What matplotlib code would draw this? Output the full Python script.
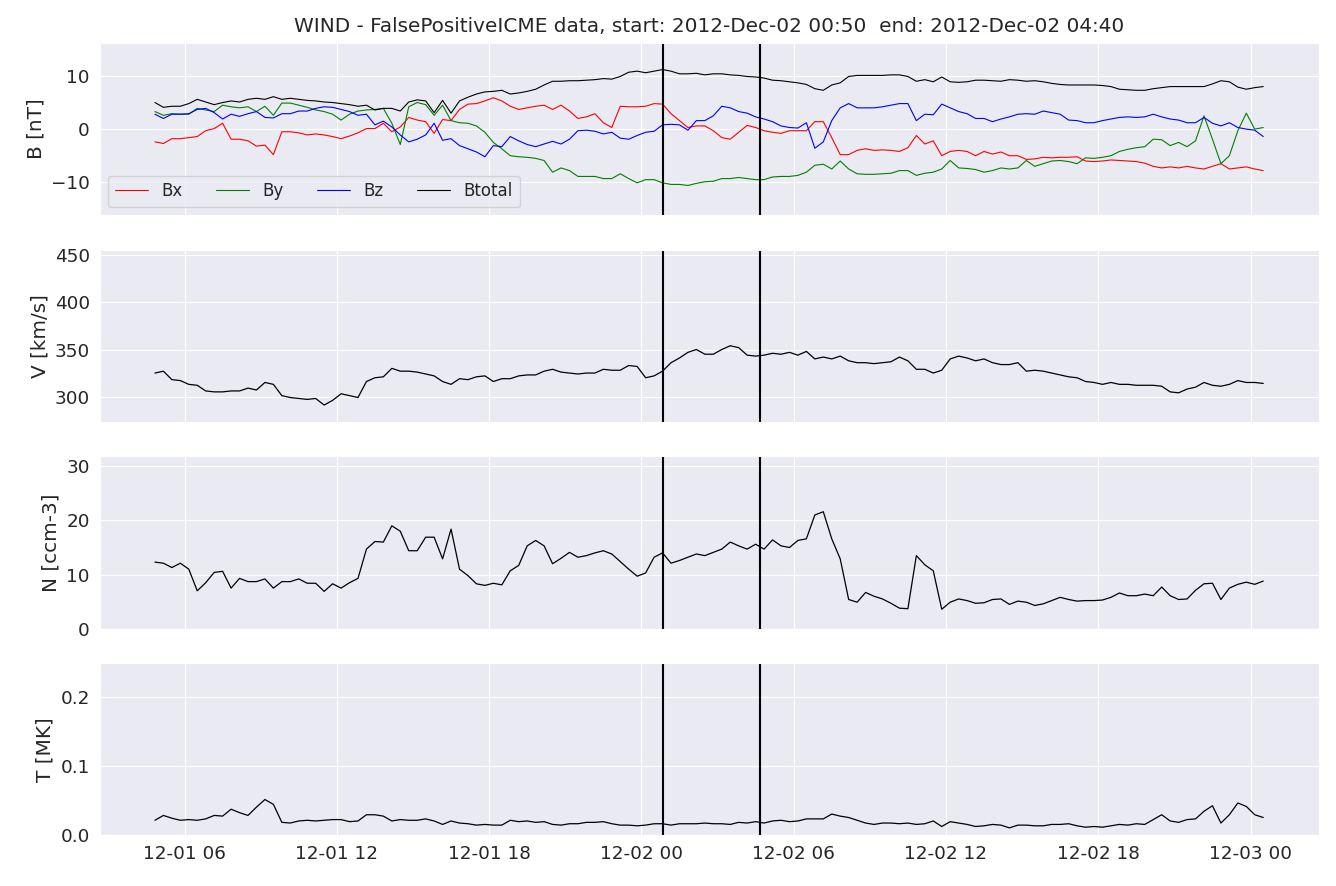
import matplotlib
matplotlib.use("Agg")
import matplotlib.pyplot as plt
import matplotlib.dates as mdates
import pandas as pd
import seaborn as sns

sns.set_style("darkgrid")
plt.rcParams["font.family"] = ["DejaVu Sans"]

# WIND in-situ data, 20 min cadence, starting 2012-12-01 04:50
start_time = "2012-12-01 04:50"
event_start = "2012-12-02 00:50"
event_end = "2012-12-02 04:40"

bx = [-2.4, -2.7, -1.8, -1.8, -1.6, -1.4, -0.3, 0.1, 1.1, -1.9,
      -1.9, -2.2, -3.2, -3.0, -4.8, -0.5, -0.5, -0.7, -1.1, -0.9,
      -1.1, -1.4, -1.8, -1.3, -0.7, 0.1, 0.1, 1.1, -0.5, 0.4,
      2.2, 1.7, 1.4, -0.8, 1.8, 1.6, 3.7, 4.7, 4.8, 5.3,
      5.9, 5.3, 4.3, 3.7, 4.0, 4.3, 4.5, 3.7, 4.5, 3.4,
      2.0, 2.3, 2.9, 1.2, 0.3, 4.3, 4.2, 4.2, 4.3, 4.8,
      4.7, 2.9, 1.6, 0.3, 0.6, 0.6, -0.3, -1.6, -1.9, -0.6,
      0.7, 0.3, -0.3, -0.6, -0.8, -0.3, -0.3, -0.3, 1.4, 1.4,
      -1.6, -4.8, -4.8, -4.0, -3.7, -4.0, -3.9, -4.0, -4.2, -3.5,
      -1.2, -2.8, -2.2, -5.0, -4.2, -4.0, -4.2, -5.0, -4.2, -4.7,
      -4.3, -5.0, -5.0, -5.7, -5.6, -5.3, -5.4, -5.3, -5.3, -5.2,
      -6.0, -6.1, -6.0, -5.8, -5.9, -6.0, -6.1, -6.4, -7.0, -7.3,
      -7.1, -7.3, -7.0, -7.3, -7.5, -7.0, -6.5, -7.5, -7.3, -7.1,
      -7.5, -7.8]

by = [3.3, 2.6, 2.9, 2.8, 2.8, 3.9, 3.6, 3.3, 4.5, 4.2,
      4.0, 4.2, 3.3, 4.3, 2.6, 4.9, 4.9, 4.5, 4.1, 3.6,
      3.3, 2.8, 1.7, 2.8, 3.4, 3.6, 3.7, 3.9, 1.1, -2.9,
      4.2, 5.0, 4.6, 2.6, 4.5, 1.6, 1.2, 1.1, 0.6, -0.6,
      -2.5, -3.7, -5.0, -5.2, -5.3, -5.5, -5.9, -8.1, -7.3, -7.8,
      -8.9, -8.9, -8.9, -9.3, -9.3, -8.4, -9.3, -10.1, -9.5, -9.5,
      -10.1, -10.4, -10.4, -10.6, -10.2, -9.9, -9.8, -9.3, -9.3, -9.1,
      -9.3, -9.5, -9.5, -9.0, -8.9, -8.9, -8.7, -8.1, -6.8, -6.6,
      -7.5, -6.0, -7.5, -8.4, -8.5, -8.5, -8.4, -8.3, -7.8, -7.8,
      -8.7, -8.3, -8.1, -7.5, -5.9, -7.3, -7.4, -7.6, -8.1, -7.8,
      -7.3, -7.5, -7.3, -5.9, -7.0, -6.5, -6.0, -5.9, -6.1, -6.5,
      -5.4, -5.5, -5.3, -5.0, -4.2, -3.8, -3.5, -3.3, -1.9, -2.0,
      -3.1, -2.5, -3.3, -2.2, 2.5, -1.9, -6.5, -5.0, -0.3, 3.0,
      0.0, 0.3]

bz = [2.8, 2.0, 2.8, 2.8, 2.9, 3.7, 3.9, 3.1, 1.9, 2.8,
      2.4, 2.9, 3.3, 2.2, 2.1, 2.9, 2.9, 3.4, 3.4, 3.9,
      4.2, 4.1, 3.7, 3.3, 2.6, 2.8, 0.8, 1.5, 0.4, -1.1,
      -2.4, -1.9, -1.1, 1.1, -2.1, -1.8, -3.1, -3.7, -4.3, -5.2,
      -3.1, -3.3, -1.4, -2.2, -2.9, -3.3, -2.8, -2.3, -2.8, -1.9,
      -0.3, -0.2, -0.4, -0.9, -0.6, -1.7, -1.9, -1.2, -0.6, -0.4,
      0.8, 0.9, 0.8, -0.2, 1.6, 1.6, 2.5, 4.3, 4.0, 3.3,
      3.0, 2.3, 1.9, 1.4, 0.6, 0.3, 0.2, 1.2, -3.6, -2.4,
      1.6, 4.0, 4.8, 4.0, 4.0, 4.0, 4.2, 4.5, 4.8, 4.8,
      1.6, 2.8, 2.7, 4.7, 4.0, 3.3, 2.9, 2.0, 2.0, 1.4,
      1.9, 2.3, 2.8, 2.9, 2.8, 3.4, 3.1, 2.8, 1.7, 1.6,
      1.2, 1.2, 1.6, 1.9, 2.2, 2.3, 2.2, 2.3, 2.8, 2.3,
      1.9, 1.7, 1.2, 1.2, 2.2, 1.1, 0.6, 1.2, 0.3, 0.0,
      -0.2, -1.4]

btot = [5.0, 4.1, 4.3, 4.3, 4.8, 5.6, 5.1, 4.6, 5.0, 5.3,
        5.1, 5.6, 5.8, 5.6, 6.1, 5.6, 5.8, 5.6, 5.4, 5.3,
        5.1, 5.0, 4.8, 4.6, 4.3, 4.5, 3.6, 3.9, 3.9, 3.4,
        5.1, 5.5, 5.3, 3.1, 5.4, 3.0, 5.3, 6.0, 6.6, 7.0,
        7.1, 7.3, 6.6, 6.8, 7.1, 7.5, 8.3, 9.0, 9.0, 9.1,
        9.1, 9.2, 9.3, 9.5, 9.4, 9.9, 10.7, 10.9, 10.6, 10.9,
        11.2, 10.9, 10.4, 10.4, 10.5, 10.2, 10.4, 10.4, 10.2, 10.1,
        9.9, 9.8, 9.6, 9.2, 9.1, 8.9, 8.7, 8.4, 7.6, 7.3,
        8.3, 8.7, 9.9, 10.1, 10.1, 10.1, 10.1, 10.2, 10.2, 9.9,
        9.0, 9.3, 8.9, 9.8, 8.9, 8.8, 8.9, 9.2, 9.2, 9.1,
        9.0, 9.3, 9.2, 9.0, 9.1, 8.9, 8.6, 8.4, 8.3, 8.3,
        8.3, 8.3, 8.2, 8.0, 7.5, 7.4, 7.3, 7.3, 7.6, 7.8,
        8.0, 8.0, 8.0, 8.0, 8.0, 8.5, 9.1, 8.9, 7.9, 7.5,
        7.8, 8.0]

vel = [325, 327, 318, 317, 313, 312, 306, 305, 305, 306,
       306, 309, 307, 315, 313, 301, 299, 298, 297, 298,
       291, 296, 303, 301, 299, 316, 320, 321, 330, 327,
       327, 326, 324, 322, 316, 313, 319, 318, 321, 322,
       316, 319, 319, 322, 323, 323, 327, 329, 326, 325,
       324, 325, 325, 329, 328, 328, 333, 332, 320, 322,
       327, 336, 341, 347, 350, 345, 345, 350, 354, 352,
       344, 343, 344, 346, 345, 347, 344, 348, 340, 342,
       340, 343, 338, 336, 336, 335, 336, 337, 342, 338,
       329, 329, 325, 328, 340, 343, 341, 338, 340, 336,
       334, 334, 336, 327, 328, 327, 325, 323, 321, 320,
       316, 315, 313, 315, 313, 313, 312, 312, 312, 311,
       305, 304, 308, 310, 315, 312, 311, 313, 317, 315,
       315, 314]

dens = [12.3, 12.1, 11.3, 12.1, 11.0, 7.0, 8.5, 10.4, 10.6, 7.5,
        9.3, 8.7, 8.7, 9.2, 7.5, 8.7, 8.7, 9.2, 8.4, 8.4,
        6.9, 8.3, 7.5, 8.5, 9.3, 14.7, 16.1, 16.0, 19.0, 18.0,
        14.4, 14.4, 16.9, 16.9, 12.9, 18.4, 11.0, 9.8, 8.3, 8.0,
        8.4, 8.1, 10.7, 11.7, 15.3, 16.3, 15.3, 12.0, 13.0, 14.1,
        13.2, 13.5, 14.0, 14.4, 13.8, 12.4, 11.0, 9.7, 10.3, 13.2,
        14.0, 12.1, 12.6, 13.2, 13.8, 13.5, 14.1, 14.7, 16.0, 15.3,
        14.7, 15.6, 14.7, 16.4, 15.3, 15.0, 16.3, 16.6, 21.0, 21.6,
        16.6, 12.9, 5.4, 4.9, 6.7, 6.0, 5.5, 4.7, 3.8, 3.7,
        13.5, 11.8, 10.7, 3.6, 4.9, 5.5, 5.2, 4.7, 4.8, 5.4,
        5.5, 4.5, 5.1, 4.9, 4.3, 4.6, 5.2, 5.8, 5.4, 5.1,
        5.2, 5.2, 5.3, 5.8, 6.6, 6.1, 6.1, 6.4, 6.1, 7.7,
        6.1, 5.4, 5.5, 7.1, 8.3, 8.4, 5.4, 7.5, 8.2, 8.6,
        8.2, 8.8]

temp = [0.022, 0.029, 0.025, 0.022, 0.023, 0.022, 0.024, 0.029, 0.028, 0.038,
        0.033, 0.029, 0.041, 0.052, 0.045, 0.019, 0.018, 0.021, 0.022, 0.021,
        0.022, 0.023, 0.023, 0.020, 0.021, 0.030, 0.030, 0.028, 0.021, 0.023,
        0.022, 0.022, 0.024, 0.021, 0.016, 0.021, 0.018, 0.017, 0.015, 0.016,
        0.015, 0.015, 0.022, 0.020, 0.021, 0.019, 0.020, 0.016, 0.015, 0.017,
        0.017, 0.019, 0.019, 0.020, 0.017, 0.015, 0.015, 0.014, 0.015, 0.017,
        0.017, 0.015, 0.017, 0.017, 0.017, 0.018, 0.017, 0.017, 0.016, 0.019,
        0.018, 0.020, 0.018, 0.021, 0.022, 0.020, 0.021, 0.024, 0.024, 0.024,
        0.031, 0.028, 0.026, 0.022, 0.018, 0.016, 0.018, 0.018, 0.017, 0.018,
        0.016, 0.017, 0.021, 0.013, 0.020, 0.018, 0.016, 0.013, 0.014, 0.016,
        0.015, 0.011, 0.015, 0.015, 0.014, 0.014, 0.016, 0.016, 0.017, 0.014,
        0.012, 0.013, 0.012, 0.014, 0.016, 0.015, 0.017, 0.016, 0.023, 0.030,
        0.021, 0.019, 0.023, 0.024, 0.035, 0.043, 0.018, 0.030, 0.047, 0.042,
        0.030, 0.026]

times = pd.date_range(start_time, periods=len(bx), freq="20min")
t_start = pd.Timestamp(event_start)
t_end = pd.Timestamp(event_end)

fig, axes = plt.subplots(4, 1, sharex=True, figsize=(13.36, 8.86), dpi=100)
fig.subplots_adjust(left=0.0745, right=0.987, top=0.9515, bottom=0.057, hspace=0.2)

ax1, ax2, ax3, ax4 = axes

ax1.plot(times, bx, color="red", lw=0.8, label="Bx")
ax1.plot(times, by, color="green", lw=0.8, label="By")
ax1.plot(times, bz, color="blue", lw=0.8, label="Bz")
ax1.plot(times, btot, color="black", lw=0.8, label="Btotal")
ax1.set_ylim(-16.2, 16.2)
ax1.set_yticks([-10, 0, 10])
ax1.set_ylabel("B [nT]", fontsize=14.4)
ax1.legend(loc="lower left", ncol=4, fontsize=12)
ax1.set_title("WIND - FalsePositiveICME data, start: 2012-Dec-02 00:50  end: 2012-Dec-02 04:40",
              fontsize=14.4, pad=8)

ax2.plot(times, vel, color="black", lw=0.9)
ax2.set_ylim(273, 456)
ax2.set_yticks([300, 350, 400, 450])
ax2.set_ylabel("V [km/s]", fontsize=14.4)

ax3.plot(times, dens, color="black", lw=0.9)
ax3.set_ylim(0, 31.8)
ax3.set_yticks([0, 10, 20, 30])
ax3.set_ylabel("N [ccm-3]", fontsize=14.4)

ax4.plot(times, temp, color="black", lw=0.9)
ax4.set_ylim(0, 0.249)
ax4.set_yticks([0.0, 0.1, 0.2])
ax4.set_ylabel("T [MK]", fontsize=14.4)

for ax in axes:
    ax.axvline(t_start, color="black", lw=1.5)
    ax.axvline(t_end, color="black", lw=1.5)
    ax.tick_params(labelsize=13.2)

ax4.xaxis.set_major_locator(mdates.HourLocator(byhour=[0, 6, 12, 18]))
ax4.xaxis.set_major_formatter(mdates.DateFormatter("%m-%d %H"))

fig.savefig("out.png", dpi=100)
